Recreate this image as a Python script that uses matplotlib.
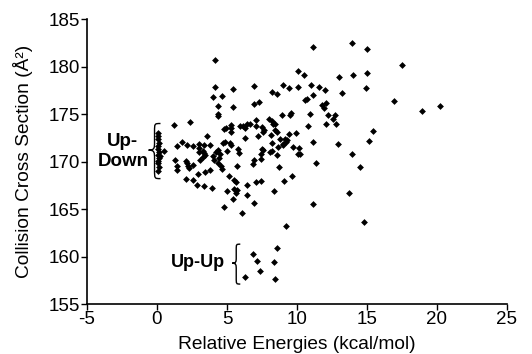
import matplotlib
matplotlib.use("Agg")
import matplotlib.pyplot as plt
from matplotlib.path import Path
from matplotlib.patches import PathPatch

plt.rcParams['font.family'] = ['Liberation Sans', 'DejaVu Sans']
plt.rcParams['axes.unicode_minus'] = False

# Relative energy (kcal/mol) and collision cross section (Å^2)
energy_updown_col = [0.1, 0.1, 0.1, 0.15, 0.1, 0.1, 0.15, 0.1, 0.15, 0.1, 0.1, 0.15, 0.1, 0.5, 0.2]
ccs_updown_col = [173.0, 172.7, 172.4, 172.0, 171.6, 171.3, 171.0, 170.7, 170.4, 170.1, 169.8, 169.4, 169.0, 171.1, 170.6]

energy_main = [
    1.2, 2.33, 1.26, 1.4, 1.4, 1.43, 1.78, 2.17, 2.6, 2.05, 2.12, 2.2, 2.3, 2.55, 2.07, 2.55,
    3.02, 3.02, 3.02, 3.36, 3.8, 3.3, 3.36, 3.45, 3.07, 3.26, 2.95, 3.43, 3.79, 2.83, 3.38, 3.9,
    3.55, 4.02, 4.07, 4.33, 4.38, 4.38, 4.14, 4.14, 3.98, 4.64, 4.79, 4.93, 4.7, 4.86, 4.24, 4.38,
    4.52, 4.43, 4.38, 4.55, 4.67, 4.8, 4.98,
    5.45, 5.42, 5.3, 5.3, 5.3, 5.24, 5.31, 5.9, 6.16, 6.45, 6.3, 6.3, 5.8, 5.83, 5.14, 5.5, 5.64,
    5.73, 5.02, 5.5, 5.69, 5.64, 6.46, 6.45, 5.45, 6.1, 6.63,
    6.93, 6.93, 7.3, 7.06, 7.04, 7.5, 7.66, 7.6, 7.2, 6.93, 6.88, 7.43, 7.47, 7.58, 7.43, 7.1, 7.4,
    6.95, 8.19, 8.6, 8.0, 8.2, 8.3, 8.45, 8.42, 8.54, 8.15, 8.2, 8.1, 8.2, 8.56, 8.64, 8.7, 8.37,
    8.77, 8.9,
    9.0, 9.4, 9.5, 9.6, 9.13, 9.25, 8.98, 8.98, 9.26, 9.72, 9.46, 9.9, 9.06, 9.67, 9.25, 10.04,
    10.2, 10.16, 10.1, 10.5, 10.06, 10.7, 10.6, 10.9, 10.8, 10.98,
    11.15, 11.15, 11.57, 12.0, 11.8, 12.06, 11.9, 12.2, 12.7, 12.6, 12.1, 12.8, 11.15, 11.39, 11.15,
    12.98, 13.2, 12.95, 13.9, 14.0, 13.94, 13.7, 14.53, 14.8, 15.0, 15.0, 14.9, 15.14, 15.45,
    16.9, 17.5, 18.93, 20.2,
]
ccs_main = [
    173.8, 174.2, 170.2, 169.5, 169.1, 171.6, 172.1, 171.7, 171.6, 170.1, 169.8, 169.5, 169.3, 169.6, 168.2, 168.1,
    171.8, 171.4, 171.0, 171.7, 171.7, 171.1, 170.9, 170.7, 170.2, 170.5, 168.7, 168.9, 169.1, 167.5, 167.4, 167.2,
    172.7, 170.6, 170.2, 175.8, 175.0, 174.8, 180.7, 177.8, 176.8, 176.9, 173.4, 173.5, 171.9, 172.1, 171.0, 171.2,
    170.8, 170.4, 169.8, 169.5, 169.2, 165.2, 171.1,
    175.7, 177.6, 173.8, 173.5, 173.1, 171.9, 171.7, 173.7, 173.7, 173.9, 173.5, 172.5, 171.3, 170.9, 168.5, 168.1, 167.8,
    169.5, 166.9, 167.1, 167.0, 166.7, 167.5, 166.5, 166.1, 164.6, 173.9,
    178.0, 176.1, 176.3, 174.4, 173.7, 173.6, 173.3, 173.1, 172.7, 170.2, 169.7, 170.8, 171.3, 171.2, 170.3, 167.8, 168.0,
    165.6, 177.3, 177.1, 174.5, 174.3, 174.0, 173.9, 173.3, 173.1, 172.8, 171.9, 171.0, 171.1, 170.7, 171.5, 169.4, 166.9,
    172.4, 174.9,
    178.1, 177.7, 174.9, 175.1, 172.4, 172.1, 171.8, 171.7, 172.3, 171.5, 172.9, 173.0, 167.9, 168.5, 163.2, 170.8,
    170.8, 171.4, 179.5, 179.1, 177.8, 176.6, 176.5, 175.0, 173.7, 178.1,
    182.1, 177.0, 177.8, 177.5, 176.0, 176.2, 175.6, 174.9, 174.9, 174.5, 173.9, 173.9, 172.1, 169.8, 165.5,
    178.9, 177.2, 171.8, 182.5, 179.1, 170.8, 166.7, 169.4, 163.6, 181.8, 179.3, 177.7, 172.2, 173.2,
    176.4, 180.2, 175.3, 175.8,
]

energy_upup = [6.29, 6.88, 7.12, 7.36, 8.55, 8.36, 8.4]
ccs_upup = [157.8, 160.3, 159.5, 158.5, 160.9, 159.4, 157.6]

x_ticks = [-5, 0, 5, 10, 15, 20, 25]
y_ticks = [155, 160, 165, 170, 175, 180, 185]

fig = plt.figure(figsize=(5.32, 3.54), dpi=100)
ax = fig.add_axes([0.1635, 0.1412, 0.7895, 0.8051])

for xs, ys in [(energy_updown_col, ccs_updown_col), (energy_main, ccs_main), (energy_upup, ccs_upup)]:
    ax.scatter(xs, ys, marker='D', s=12, color='black', linewidths=0, zorder=3)

ax.set_xlim(-5, 25)
ax.set_ylim(155, 185)
ax.set_xticks(x_ticks)
ax.set_yticks(y_ticks)
ax.spines['top'].set_visible(False)
ax.spines['right'].set_visible(False)
for s in ['left', 'bottom']:
    ax.spines[s].set_linewidth(1.2)
ax.tick_params(direction='out', length=4, width=1, labelsize=13.5, pad=1)
ax.set_xlabel('Relative Energies (kcal/mol)', fontsize=13.8, labelpad=6)
ax.set_ylabel('Collision Cross Section (Å²)', fontsize=13.8, labelpad=11)


def brace(ax, x_tip, x_end, y_bot, y_top, y_mid):
    xm = (x_tip + x_end) / 2
    ht = y_top - y_mid
    hb = y_mid - y_bot
    verts = [
        (x_end, y_top),
        (xm, y_top), (xm, y_top), (xm, y_top - ht * 0.3),
        (xm, y_mid + ht * 0.3),
        (xm, y_mid + ht * 0.08), (xm, y_mid), (x_tip, y_mid),
        (xm, y_mid), (xm, y_mid - hb * 0.08), (xm, y_mid - hb * 0.3),
        (xm, y_bot + hb * 0.3),
        (xm, y_bot), (xm, y_bot), (x_end, y_bot),
    ]
    codes = [Path.MOVETO,
             Path.CURVE4, Path.CURVE4, Path.CURVE4,
             Path.LINETO,
             Path.CURVE4, Path.CURVE4, Path.CURVE4,
             Path.CURVE4, Path.CURVE4, Path.CURVE4,
             Path.LINETO,
             Path.CURVE4, Path.CURVE4, Path.CURVE4]
    ax.add_patch(PathPatch(Path(verts, codes), fill=False, lw=1.0, color='black', zorder=2))


brace(ax, -0.6, 0.25, 168.2, 174.0, 171.2)
brace(ax, 5.37, 5.95, 157.1, 161.3, 159.3)

ax.text(-2.44, 171.05, 'Up-\nDown', ha='center', va='center', fontsize=13.5,
        fontweight='bold', linespacing=1.25)
ax.text(2.94, 159.4, 'Up-Up', ha='center', va='center', fontsize=13, fontweight='bold')

fig.savefig('out.png', dpi=100)
